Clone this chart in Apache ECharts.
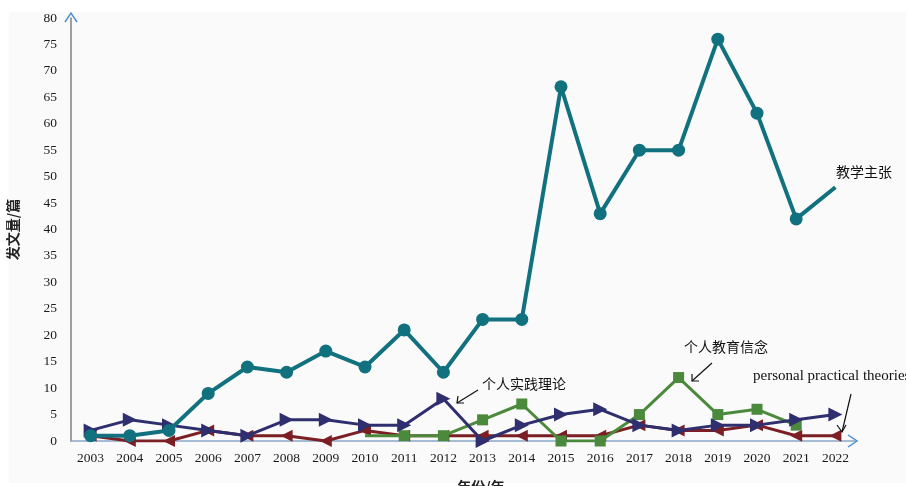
<!DOCTYPE html>
<html><head><meta charset="utf-8">
<script src="https://cdn.jsdelivr.net/npm/echarts@6/dist/echarts.min.js"></script>
<style>html,body{margin:0;padding:0;background:#fff}#c{width:906px;height:486px}</style>
</head><body><div id="c"></div>
<script>
const years = ['2003','2004','2005','2006','2007','2008','2009','2010','2011','2012','2013','2014','2015','2016','2017','2018','2019','2020','2021','2022'];
const teachingClaims = [1,1,2,9,14,13,17,14,21,13,23,23,67,43,55,55,76,62,42,48];
const practiceTheory = [2,4,3,2,1,4,4,3,3,8,0,3,5,6,3,2,3,3,4,5];
const educationBelief = [null,null,null,null,null,null,null,1,1,1,4,7,0,0,5,12,5,6,3,null];
const personalPractical = [1,0,0,2,1,1,0,2,1,1,1,1,1,1,3,2,2,3,1,1];
const yMin = 0, yMax = 80, yStep = 5;

const serif = '"Liberation Serif","DejaVu Serif",serif';
const cjk = '"Noto Sans CJK SC",sans-serif';
const blue = '#4a8fd4';

const chart = echarts.init(document.getElementById('c'));

function withEnds(arr, hideFirst, hideLast){
  let first = arr.findIndex(v => v !== null);
  let last = arr.length - 1; while (arr[last] === null) last--;
  return arr.map((v,i) => {
    if (v === null) return null;
    if ((hideFirst && i === first) || (hideLast && i === last)) return {value: v, symbol: 'none'};
    return v;
  });
}

const option = {
  backgroundColor: '#ffffff',
  animation: false,
  grid: {left: 71, right: 51, top: 18, bottom: 45, containLabel: false, outerBoundsMode: 'none'},
  xAxis: {
    type: 'category', data: years, boundaryGap: true,
    name: '年份/年', nameLocation: 'middle', nameGap: 39,
    nameTextStyle: {fontFamily: cjk, fontSize: 14, color: '#222', fontWeight: 'bold', padding: [0, 0, 0, 36]},
    axisLine: {lineStyle: {color: '#8aa6c8', width: 1.5}},
    axisTick: {show: false},
    axisLabel: {fontFamily: serif, fontSize: 13.5, color: '#1a1a1a', margin: 10}
  },
  yAxis: {
    type: 'value', min: yMin, max: yMax, interval: yStep,
    name: '发文量/篇', nameLocation: 'middle', nameGap: 51, nameRotate: 90,
    nameTextStyle: {fontFamily: cjk, fontSize: 14, color: '#222', fontWeight: 'bold'},
    axisLine: {show: true, lineStyle: {color: '#7f7f7f', width: 1.5}},
    axisTick: {show: false},
    splitLine: {show: false},
    axisLabel: {fontFamily: serif, fontSize: 13.5, color: '#1a1a1a', margin: 14}
  },
  series: [
    {name: 'personal practical theories', type: 'line', data: personalPractical, z: 2,
     symbol: 'triangle', symbolRotate: 90, symbolSize: 12,
     lineStyle: {color: '#7b1f24', width: 3}, itemStyle: {color: '#7b1f24'}},
    {name: '个人教育信念', type: 'line', data: withEnds(educationBelief, true, false), z: 3,
     symbol: 'rect', symbolSize: 11,
     lineStyle: {color: '#4b8a3c', width: 3}, itemStyle: {color: '#4b8a3c'}},
    {name: '个人实践理论', type: 'line', data: practiceTheory, z: 4,
     symbol: 'triangle', symbolRotate: -90, symbolSize: 14,
     lineStyle: {color: '#2f2e6e', width: 3}, itemStyle: {color: '#2f2e6e'}},
    {name: '教学主张', type: 'line', data: withEnds(teachingClaims, false, true), z: 5,
     symbol: 'circle', symbolSize: 13,
     lineStyle: {color: '#11717f', width: 4}, itemStyle: {color: '#11717f'}}
  ],
  graphic: [
    {type: 'rect', z: -100, silent: true, shape: {x: 9, y: 12, width: 897, height: 471}, style: {fill: '#fafafa'}},
    {type: 'polyline', z: 100, shape: {points: [[65,22],[71,13],[77,22]]}, style: {stroke: blue, lineWidth: 1.5, fill: null}},
    {type: 'polyline', z: 100, shape: {points: [[848,435],[857,441],[848,447]]}, style: {stroke: blue, lineWidth: 1.5, fill: null}},
    {type: 'text', z: 100, style: {x: 836, y: 172, text: '教学主张', font: '14px ' + cjk, fill: '#111', verticalAlign: 'middle'}},
    {type: 'text', z: 100, style: {x: 482, y: 384, text: '个人实践理论', font: '14px ' + cjk, fill: '#111', verticalAlign: 'middle'}},
    {type: 'polyline', z: 100, shape: {points: [[478,390],[457,403]]}, style: {stroke: '#111', lineWidth: 1.2, fill: null}},
    {type: 'polyline', z: 100, shape: {points: [[458,396],[457,403],[464,403]]}, style: {stroke: '#111', lineWidth: 1.2, fill: null}},
    {type: 'text', z: 100, style: {x: 684, y: 347, text: '个人教育信念', font: '14px ' + cjk, fill: '#111', verticalAlign: 'middle'}},
    {type: 'polyline', z: 100, shape: {points: [[712,363],[692,381]]}, style: {stroke: '#111', lineWidth: 1.2, fill: null}},
    {type: 'polyline', z: 100, shape: {points: [[692,374],[692,381],[699,381]]}, style: {stroke: '#111', lineWidth: 1.2, fill: null}},
    {type: 'text', z: 100, style: {x: 753, y: 376, text: 'personal practical theories', font: '15px ' + serif, fill: '#111', verticalAlign: 'middle'}},
    {type: 'polyline', z: 100, shape: {points: [[851,394],[842,432]]}, style: {stroke: '#111', lineWidth: 1.2, fill: null}},
    {type: 'polyline', z: 100, shape: {points: [[837,425],[842,432],[846,425]]}, style: {stroke: '#111', lineWidth: 1.2, fill: null}}
  ]
};
chart.setOption(option);
</script>
</body></html>
